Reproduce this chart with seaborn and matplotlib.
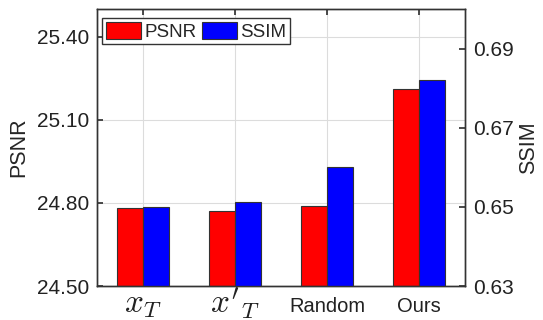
import matplotlib
matplotlib.use("Agg")
import matplotlib.pyplot as plt
import seaborn as sns
import pandas as pd
import numpy as np
from matplotlib.patches import Patch

categories = [r"$x_T$", r"$x'_T$", "Random", "Ours"]
psnr = [24.78, 24.77, 24.79, 25.21]
ssim = [0.6501, 0.6513, 0.6601, 0.6820]
psnr_ticks = [24.50, 24.80, 25.10, 25.40]
ssim_ticks = [0.63, 0.65, 0.67, 0.69]
metrics = ["PSNR", "SSIM"]
colors = {"PSNR": "#ff0000", "SSIM": "#0000ff"}

sns.set_theme(style="white")
plt.rcParams["font.family"] = ["Liberation Sans", "DejaVu Sans"]
plt.rcParams["mathtext.fontset"] = "cm"

fig = plt.figure(figsize=(5.43, 3.2), dpi=100)
ax = fig.add_axes([0.179, 0.106, 0.677, 0.866])
ax2 = ax.twinx()

df_p = pd.DataFrame({"cat": categories * 2,
                     "metric": ["PSNR"] * 4 + ["SSIM"] * 4,
                     "value": psnr + [np.nan] * 4})
df_s = pd.DataFrame({"cat": categories * 2,
                     "metric": ["PSNR"] * 4 + ["SSIM"] * 4,
                     "value": [np.nan] * 4 + ssim})

kw = dict(x="cat", y="value", hue="metric", hue_order=metrics, order=categories,
          palette=colors, width=0.57, edgecolor="#333333", linewidth=0.8,
          errorbar=None, legend=False, saturation=1)
sns.barplot(data=df_p, ax=ax, **kw)
sns.barplot(data=df_s, ax=ax2, **kw)

ax.set_xlim(-0.5, 3.5)
ax.set_ylim(24.5, 25.5)
ax2.set_ylim(0.63, 0.70)
ax.set_yticks(psnr_ticks)
ax.set_yticklabels([f"{t:.2f}" for t in psnr_ticks], fontsize=15)
ax2.set_yticks(ssim_ticks)
ax2.set_yticklabels([f"{t:.2f}" for t in ssim_ticks], fontsize=15)
ax.set_xticks(range(4))
ax.set_xticklabels(categories)
for i, lab in enumerate(ax.get_xticklabels()):
    lab.set_fontsize(24 if i < 2 else 14.5)
    lab.set_verticalalignment("baseline")

ax.set_xlabel("")
ax2.set_xlabel("")
ax.set_ylabel("PSNR", fontsize=15.5, labelpad=5)
ax2.set_ylabel("SSIM", fontsize=15.5, labelpad=3)

# grid on the lower axes, behind all bars
ax.grid(True, color="#dcdcdc", linewidth=0.8)
ax.set_axisbelow(True)
ax2.grid(False)
ax.tick_params(axis="y", direction="in", length=4, color="#333333", colors="#222222", pad=6)
ax.tick_params(axis="x", direction="in", length=4, color="#333333", colors="#222222",
               pad=19, top=True)
ax2.tick_params(axis="y", direction="in", length=4, color="#333333", colors="#222222", pad=6)
for a in (ax, ax2):
    for s in a.spines.values():
        s.set_color("#333333")
        s.set_linewidth(1.0)
        s.set_visible(True)
ax.patch.set_facecolor("white")
ax2.patch.set_visible(False)

handles = [Patch(facecolor=colors[m], edgecolor="#333333", linewidth=0.8, label=m) for m in metrics]
leg = ax2.legend(handles=handles, loc="upper left", bbox_to_anchor=(0.0136, 0.967),
                 borderaxespad=0, ncol=2, fontsize=13.5, frameon=True,
                 fancybox=False, edgecolor="#333333", handlelength=1.87, handleheight=1.0,
                 handletextpad=0.16, columnspacing=0.32, borderpad=0.2, framealpha=1)
leg.get_frame().set_linewidth(1.0)

fig.savefig("out.png", dpi=100)
